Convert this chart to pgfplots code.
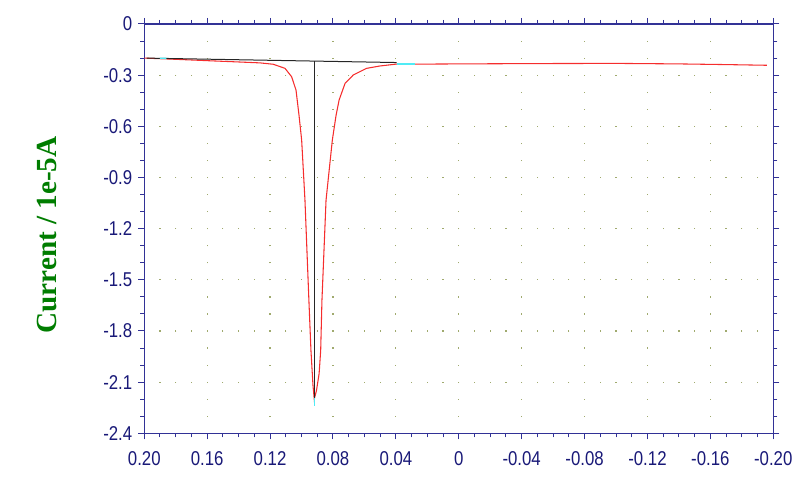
\documentclass[border=0pt]{standalone}
\usepackage{fontspec}
\setmainfont{Liberation Sans}
\newfontfamily\labelfont{Liberation Serif}
\newfontfamily\tickfont[FakeStretch=0.84]{Liberation Sans}
\usepackage{pgfplots}
\pgfplotsset{compat=1.18}
\definecolor{axisblue}{RGB}{50,50,150}
\definecolor{ticktext}{RGB}{25,25,120}
\definecolor{labelgreen}{RGB}{0,125,0}
\definecolor{griddot}{RGB}{160,170,110}
\definecolor{curvered}{RGB}{245,45,45}
\definecolor{cyanmark}{RGB}{80,235,245}
\begin{document}
\begin{tikzpicture}
\path[use as bounding box] (0,0) rectangle (600pt,361.5pt);
\begin{axis}[
  at={(108.2pt,36.5pt)}, anchor=south west,
  scale only axis, width=471.75pt, height=307pt,
  xmin=-0.2, xmax=0.2, ymin=-2.4, ymax=0,
  x dir=reverse,
  xtick={0.2,0.16,0.12,0.08,0.04,0,-0.04,-0.08,-0.12,-0.16,-0.2},
  xticklabels={0.20,0.16,0.12,0.08,0.04,0,-0.04,-0.08,-0.12,-0.16,-0.20},
  ytick={0,-0.3,-0.6,-0.9,-1.2,-1.5,-1.8,-2.1,-2.4},
  yticklabels={0,-0.3,-0.6,-0.9,-1.2,-1.5,-1.8,-2.1,-2.4},
  minor x tick num=3, minor y tick num=2,
  tick align=outside,
  major tick length=4.5pt, minor tick length=3pt,
  every tick/.style={axisblue, line width=0.75pt},
  axis line style={axisblue, line width=0.9pt},
  ticklabel style={font=\tickfont\fontsize{15}{17}\selectfont, text=ticktext},
  xticklabel style={yshift=-5.5pt},
  yticklabel style={xshift=-1pt},
  xmajorgrids, ymajorgrids,
  x grid style={griddot, line width=0.9pt, dash pattern=on 0.9pt off 11.89pt, dash phase=0.45pt},
  y grid style={griddot, line width=0.9pt, dash pattern=on 0.9pt off 10.894pt, dash phase=0.45pt},
  ylabel={Current / 1e-5A},
  every axis y label/.style={at={(axis description cs:-0.155,0.4845)}, anchor=center, rotate=90,
     font=\labelfont\bfseries\fontsize{21.9}{24}\selectfont, text=labelgreen},
]
\addplot[curvered, line width=0.8pt] coordinates {
(0.2,-0.200) (0.18,-0.207) (0.16,-0.215) (0.139,-0.223) (0.1264,-0.228)
(0.118,-0.236) (0.1105,-0.26) (0.1063,-0.309) (0.1035,-0.387) (0.1016,-0.534)
(0.0999,-0.681) (0.0978,-1.033) (0.0953,-1.62) (0.094,-1.913) (0.0927,-2.118)
(0.0919,-2.2) (0.0905,-2.15) (0.0888,-2.05) (0.0878,-1.913) (0.087,-1.62)
(0.0844,-1.033) (0.0804,-0.681) (0.078,-0.534) (0.0761,-0.446) (0.0723,-0.348)
(0.0671,-0.299) (0.0586,-0.26) (0.05,-0.246) (0.0395,-0.235) (0.02,-0.235)
(0,-0.234) (-0.05,-0.232) (-0.10,-0.231) (-0.14,-0.234) (-0.17,-0.238) (-0.196,-0.242)
};
\addplot[black!85, line width=0.75pt] coordinates {(0.1985,-0.200) (0.0395,-0.226)};
\addplot[black!85, line width=0.75pt] coordinates {(0.0918,-0.2172) (0.0918,-2.19)};
\addplot[cyanmark, line width=1pt] coordinates {(0.0918,-2.19) (0.0918,-2.24)};
\addplot[cyanmark, line width=1pt] coordinates {(0.190,-0.201) (0.186,-0.2015)};
\addplot[cyanmark, line width=1pt] coordinates {(0.039,-0.234) (0.028,-0.234)};
\end{axis}
\end{tikzpicture}
\end{document}
